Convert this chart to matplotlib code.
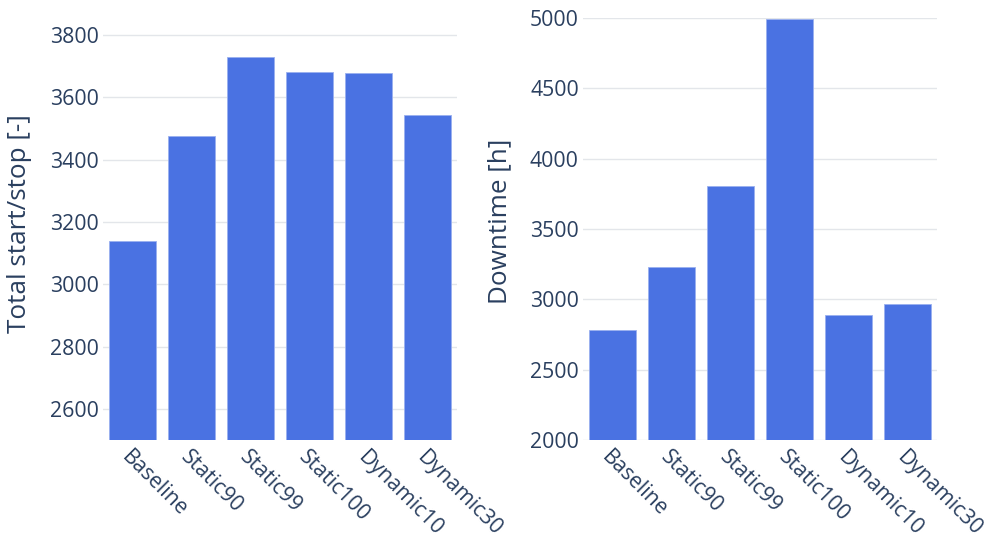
import matplotlib.pyplot as plt

# Data
scenarios = ["Baseline", "Static90", "Static99", "Static100", "Dynamic10", "Dynamic30"]
start_stop = [3140, 3477, 3731, 3681, 3679, 3542]
downtime = [2781, 3230, 3804, 4993, 2889, 2967]

start_ticks = [2600, 2800, 3000, 3200, 3400, 3600, 3800]
down_ticks = [2000, 2500, 3000, 3500, 4000, 4500, 5000]

plt.rcParams["font.family"] = ["Open Sans", "DejaVu Sans"]
text_color = "#2a3f5f"
bar_color = "#4A72E2"
grid_color = "#E3E6EA"

fig = plt.figure(figsize=(9.98, 5.45), dpi=100)
ax1 = fig.add_axes([0.1032, 0.1927, 0.3547, 0.7743])
ax2 = fig.add_axes([0.5842, 0.1927, 0.3547, 0.7743])

panels = [
    (ax1, start_stop, start_ticks, (2500, 3855), "Total start/stop [-]", 0.512),
    (ax2, downtime, down_ticks, (2000, 5000), "Downtime [h]", 0.517),
]

for ax, values, ticks, ylim, ylabel, ypos in panels:
    x = range(len(scenarios))
    ax.bar(x, values, width=0.8, color=bar_color, edgecolor="#9AB0EF",
           linewidth=0.6, zorder=3)
    ax.set_xlim(-0.5, len(scenarios) - 0.5)
    ax.set_ylim(*ylim)
    ax.set_yticks(ticks)
    ax.set_yticklabels([str(t) for t in ticks])
    ax.set_xticks(list(x))
    ax.set_xticklabels(scenarios, rotation=-45, ha="left", va="top",
                       rotation_mode="anchor")
    ax.grid(axis="y", color=grid_color, linewidth=1, zorder=0)
    ax.set_axisbelow(True)
    for s in ax.spines.values():
        s.set_visible(False)
    ax.tick_params(axis="both", length=0, labelsize=15.3, colors=text_color)
    ax.tick_params(axis="y", pad=3)
    ax.tick_params(axis="x", pad=5)
    ax.set_ylabel(ylabel, fontsize=18.8, color=text_color)
    ax.yaxis.set_label_coords(-0.2, ypos)

fig.savefig("out.png", dpi=100, facecolor="white")
